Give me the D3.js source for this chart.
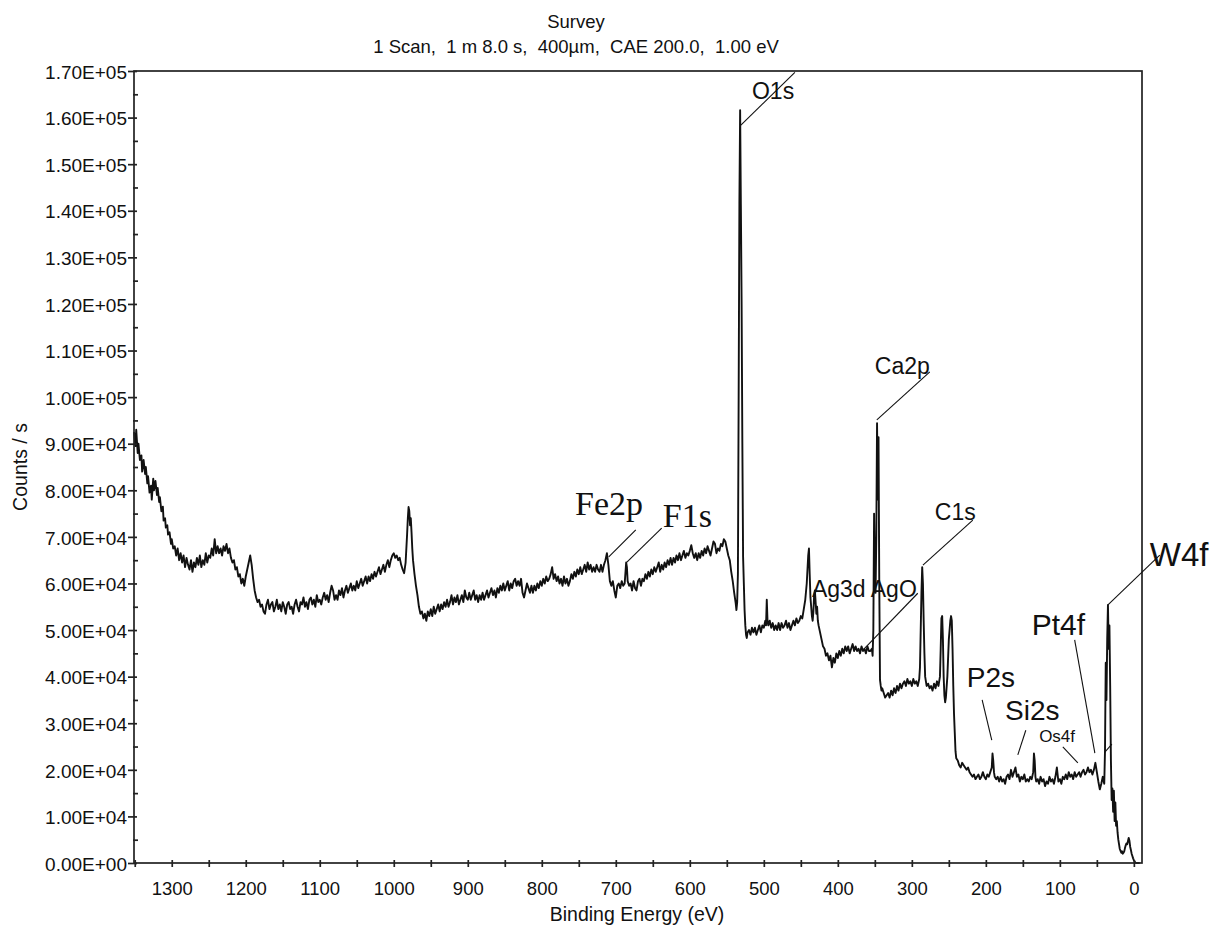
<!DOCTYPE html>
<html>
<head>
<meta charset="utf-8">
<script src="https://cdn.jsdelivr.net/npm/d3@7"></script>
<style>
  html, body { margin: 0; padding: 0; background: #fff; }
  svg { display: block; }
  text { fill: #111; }
</style>
</head>
<body>
<svg id="chart" width="1225" height="932"></svg>
<script>
// ---------------- DATA ----------------
const titleText = "Survey";
const subtitleText = "1 Scan,  1 m 8.0 s,  400\u00b5m,  CAE 200.0,  1.00 eV";
const xAxisTitle = "Binding Energy (eV)";
const yAxisTitle = "Counts / s";

const xMajorTicks = [1300, 1200, 1100, 1000, 900, 800, 700, 600, 500, 400, 300, 200, 100, 0];
const xMinorTicks = [1350, 1250, 1150, 1050, 950, 850, 750, 650, 550, 450, 350, 250, 150, 50];
const yMajorTicks = [0, 10000, 20000, 30000, 40000, 50000, 60000, 70000, 80000, 90000, 100000,
                     110000, 120000, 130000, 140000, 150000, 160000, 170000];
const yTickLabels = ["0.00E+00", "1.00E+04", "2.00E+04", "3.00E+04", "4.00E+04", "5.00E+04",
                     "6.00E+04", "7.00E+04", "8.00E+04", "9.00E+04", "1.00E+05", "1.10E+05",
                     "1.20E+05", "1.30E+05", "1.40E+05", "1.50E+05", "1.60E+05", "1.70E+05"];
const yMinorTicks = [5000, 15000, 25000, 35000, 45000, 55000, 65000, 75000, 85000, 95000,
                     105000, 115000, 125000, 135000, 145000, 155000, 165000];

// [binding energy (eV), counts/s]
const spectrum = [
[1351,92500],[1349,89500],[1348,93000],[1346,88000],[1345,90000],[1343,86500],[1341,87500],[1340,84000],
[1338,86500],[1336,83500],[1335,85000],[1333,81500],[1332,83000],[1330,79500],[1328,81000],[1327,78000],
[1325,82500],[1324,80000],[1322,82000],[1320,79000],[1319,80500],[1317,77500],[1316,78500],[1314,75500],
[1312,76500],[1311,73500],[1309,74000],[1308,72000],[1306,72500],[1305,70500],[1303,71000],[1301,68500],
[1300,69500],[1298,67500],[1296,68000],[1294,66000],[1292,67500],[1290,65000],[1288,66500],[1286,64500],
[1284,66000],[1282,63500],[1280,65500],[1278,64000],[1276,63000],[1274,65000],[1272,62500],[1270,64500],
[1268,63500],[1266,65500],[1264,64000],[1262,66000],[1260,63500],[1258,65000],[1256,64000],[1254,66500],
[1252,64500],[1250,66000],[1248,65500],[1246,67500],[1244,66000],[1242,69500],[1240,66500],[1238,68000],
[1236,66500],[1234,67500],[1232,66000],[1230,68000],[1228,67000],[1226,68500],[1224,66500],[1222,67500],
[1220,65500],[1218,64500],[1216,65000],[1214,63000],[1212,63500],[1210,61500],[1208,62000],[1206,60000],
[1204,61000],[1202,59500],[1200,61500],[1198,63000],[1196,64500],[1194,66000],[1192,64000],[1190,61000],
[1188,58500],[1186,57000],[1184,56000],[1182,56500],[1180,55000],[1178,55500],[1176,54000],[1174,53500],
[1172,55500],[1170,56500],[1168,54500],[1166,55500],[1164,56000],[1162,54000],[1160,55000],[1158,56500],
[1156,54500],[1154,55500],[1152,54000],[1150,56000],[1148,55000],[1146,53500],[1144,55500],[1142,56000],
[1140,54500],[1138,55000],[1136,53500],[1134,55500],[1132,56500],[1130,55000],[1128,54000],[1126,56000],
[1124,55500],[1122,57000],[1120,55000],[1118,56000],[1116,54500],[1114,56500],[1112,57000],[1110,55500],
[1108,56500],[1106,55000],[1104,57500],[1102,56000],[1100,56500],[1098,55500],[1096,57000],[1094,58000],
[1092,56500],[1090,57500],[1088,56000],[1086,58000],[1084,59500],[1082,58500],[1080,56500],[1078,57500],
[1076,56500],[1074,58500],[1072,57500],[1070,59000],[1068,57000],[1066,58500],[1064,59500],[1062,58000],
[1060,59000],[1058,60000],[1056,58500],[1054,59500],[1052,58500],[1050,60500],[1048,59000],[1046,60000],
[1044,61000],[1042,59500],[1040,60500],[1038,61500],[1036,60000],[1034,61500],[1032,60500],[1030,62000],
[1028,61000],[1026,62500],[1024,61500],[1022,62500],[1020,63500],[1018,62000],[1016,63000],[1014,64000],
[1012,62500],[1010,64000],[1008,65000],[1006,63500],[1004,65000],[1002,66000],[1000,66500],[998,65500],
[996,66000],[994,65000],[992,65500],[990,64000],[988,63000],[986,62200],[984,64500],[982,70500],
[981,74000],[980,76400],[979,75500],[978,72500],[977,74000],[976,71000],[975,67500],[974,65000],
[972,62000],[970,59500],[968,57500],[966,55000],[964,53500],[962,54000],[960,52500],[958,53500],
[956,52000],[954,54000],[952,53000],[950,54500],[948,53000],[946,55000],[944,53500],[942,54500],
[940,55500],[938,54000],[936,55500],[934,54500],[932,56000],[930,55000],[928,56500],[926,55000],
[924,56000],[922,57500],[920,55500],[918,57000],[916,56000],[914,57500],[912,55500],[910,56500],
[908,57500],[906,56000],[904,58500],[902,57000],[900,56500],[898,58000],[896,56500],[894,57500],
[892,58500],[890,56500],[888,57500],[886,56000],[884,57500],[882,56500],[880,58000],[878,56500],
[876,57500],[874,58500],[872,57000],[870,58000],[868,59000],[866,57500],[864,58500],[862,57000],
[860,59000],[858,58000],[856,59500],[854,58500],[852,60000],[850,58500],[848,59500],[846,60500],
[844,58500],[842,60000],[840,59000],[838,60500],[836,61000],[834,59500],[832,60500],[830,59500],
[828,61000],[826,58000],[824,57000],[822,58500],[820,60000],[818,59000],[816,58000],[814,59500],
[812,58000],[810,59500],[808,58500],[806,60000],[804,59000],[802,60500],[800,59500],[798,61000],
[796,60000],[794,61500],[792,60500],[790,61000],[788,62000],[786,63500],[784,61000],[782,62000],
[780,60500],[778,61500],[776,60000],[774,61000],[772,59500],[770,61500],[768,60000],[766,61000],
[764,59500],[762,60500],[760,62000],[758,61000],[756,62500],[754,61500],[752,63000],[750,62000],
[748,63500],[746,62000],[744,63000],[742,64000],[740,62500],[738,64500],[736,63000],[734,64000],
[732,62500],[730,63500],[728,62500],[726,64000],[724,63000],[722,62500],[720,64000],[718,62500],
[716,64000],[714,65000],[712,66500],[710,64000],[708,60500],[706,59500],[704,60500],[702,58500],
[700,57000],[698,59500],[696,60000],[694,59000],[692,60500],[690,59500],[688,60000],[686,64500],
[685,63500],[684,60500],[682,59500],[680,60000],[678,58500],[676,60500],[674,59000],[672,58500],
[670,60500],[668,61000],[666,59500],[664,61000],[662,60500],[660,62000],[658,61000],[656,62500],
[654,61500],[652,63000],[650,62000],[648,63500],[646,62500],[644,63500],[642,64500],[640,62500],
[638,64000],[636,63000],[634,64500],[632,63500],[630,65000],[628,64000],[626,65500],[624,64000],
[622,65500],[620,64500],[618,66000],[616,65000],[614,66500],[612,65000],[610,66000],[608,67000],
[606,65500],[604,66500],[602,66000],[600,67000],[598,68200],[596,66500],[594,65500],[592,66500],
[590,65000],[588,66500],[586,65500],[584,67000],[582,66000],[580,67500],[578,66500],[576,68000],
[574,67000],[572,66000],[570,67500],[568,69000],[566,68500],[564,66500],[562,67500],[560,67000],
[558,68500],[556,68000],[554,69500],[552,69000],[550,67500],[548,66000],[546,65000],[544,62500],
[542,60500],[540,58000],[538,55800],[537,54300],[536,56000],[535,62000],[534,100000],[533,141500],
[532,161600],[531,141000],[530,120000],[529,90000],[528,65700],[527,60000],[526,54300],[525,51000],
[524,49000],[523,48300],[522,49500],[520,50000],[518,49000],[516,50500],[514,49500],[512,50500],
[510,49000],[508,50000],[506,51000],[504,49500],[502,51000],[500,50500],[498,52000],[497,51000],
[496,56500],[495,52000],[494,51000],[492,52000],[490,50500],[488,51500],[486,50000],[484,51000],
[482,50000],[480,51500],[478,50000],[476,51500],[474,50500],[472,51000],[470,52000],[468,50500],
[466,51500],[464,50000],[462,51000],[460,52000],[458,51000],[456,52500],[454,51500],[452,52000],
[450,53000],[448,52500],[446,54500],[444,56500],[442,60000],[440,66000],[439,67500],[438,62000],
[437,57000],[436,55000],[435,53000],[434,52000],[433,54000],[432,57500],[431,58500],[430,56000],
[429,53500],[428,55000],[427,52000],[426,51000],[424,49500],[422,48000],[420,46500],[418,46000],
[416,44500],[414,45000],[412,43500],[410,44500],[408,42000],[406,44000],[404,43000],[402,45000],
[400,44000],[398,45500],[396,44500],[394,46000],[392,45000],[390,46500],[388,45500],[386,46500],
[384,45000],[382,46000],[380,47000],[378,45500],[376,46500],[374,45500],[372,46000],[370,45000],
[368,46500],[366,45500],[364,46000],[362,45000],[360,46500],[358,45500],[356,45500],[354,46000],
[353,44500],[352,50000],[351,75000],[350,62000],[349,58000],[348,70000],[347,94400],[346,78000],
[345,91400],[344,60000],[343,39300],[342,38000],[341,37000],[340,37500],[338,36500],[336,35500],
[334,36000],[332,36500],[330,35500],[328,37000],[326,36000],[324,37500],[322,36500],[320,38000],
[318,37000],[316,38500],[314,37500],[312,38500],[310,39000],[308,38000],[306,39500],[304,38500],
[302,39000],[300,38000],[298,39500],[296,38500],[294,39000],[292,38000],[290,39500],[289,42000],
[288,50000],[287,58000],[286,63500],[285,60000],[284,52000],[283,45000],[282,40000],[281,39000],
[280,38000],[278,38500],[276,37500],[274,38000],[272,37000],[270,38500],[268,37500],[266,39000],
[264,38000],[262,40000],[261,46000],[260,52500],[259,53000],[258,48000],[257,40000],[256,36000],
[255,34500],[254,35500],[252,40000],[250,48000],[248,52000],[247,53000],[246,52000],[245,46000],
[244,38000],[243,32000],[242,28000],[241,24000],[240,22500],[238,22000],[236,21000],[234,20500],
[232,21500],[230,21000],[228,20500],[226,20000],[224,20500],[222,19500],[220,19000],[218,18500],
[216,19000],[214,18000],[212,18500],[210,19000],[208,18000],[206,18500],[204,19500],[202,18500],
[200,18000],[198,19000],[196,18500],[194,19500],[192,20500],[191,23500],[190,22000],[189,19500],
[188,18500],[186,18000],[184,18500],[182,17500],[180,18500],[178,17500],[176,18000],[174,17000],
[172,18500],[170,19000],[168,18000],[166,20000],[164,18500],[162,19500],[160,20500],[158,18500],
[156,19000],[154,17500],[152,18500],[150,18000],[148,19000],[146,17500],[144,18000],[142,17500],
[140,18500],[138,18000],[136,19500],[135,23500],[134,22000],[133,18500],[132,17500],[130,18000],
[128,17000],[126,18500],[124,17500],[122,18000],[120,16500],[118,17500],[116,17000],[114,18500],
[112,17500],[110,18000],[108,17000],[106,18500],[104,20500],[103,19000],[102,17500],[100,18000],
[98,17000],[96,18500],[94,18000],[92,19000],[90,18000],[88,19500],[86,18500],[84,19000],
[82,18000],[80,19500],[78,18500],[76,19000],[74,19500],[72,18500],[70,19500],[68,20000],
[66,19000],[64,19500],[62,20500],[60,19500],[58,20000],[56,19000],[54,20000],[52,21500],
[50,19500],[48,17500],[46,15800],[44,17000],[42,18500],[40,17000],[39,24000],[38,43000],
[37,35000],[36,48000],[35,55400],[34,46000],[33,51000],[32,38000],[31,22000],[30,13500],
[29,16000],[28,11000],[27,15500],[26,9000],[25,13000],[24,8000],[23,9000],[22,6500],
[21,5000],[20,4000],[19,3000],[18,2600],[17,2200],[16,2500],[15,2000],[14,2200],
[13,2500],[12,3200],[11,3800],[10,4200],[9,4000],[8,4700],[7,5400],[6,4800],
[5,3500],[4,2800],[3,2000],[2,1500],[1,1000],[0,600],[-1,300],[-2,100],[-3,0],[-8,0]
];

// Peak annotations: label, text anchor point (BE, counts), leader line from/to (BE, counts)
const annotations = [
  {label: "O1s",      font: "sans",  size: 23, at: [516, 164000],   from: [531, 158400], to: [458, 169700]},
  {label: "Ca2p",     font: "sans",  size: 23, at: [350, 104900],   from: [347.3, 95100], to: [275.7, 105400]},
  {label: "C1s",      font: "sans",  size: 23, at: [269, 73600],    from: [285, 63950],  to: [217.6, 73600]},
  {label: "Ag3d AgO", font: "sans",  size: 23, at: [435, 57100],    from: [363.5, 46100], to: [292, 57900]},
  {label: "Fe2p",     font: "serif", size: 34, at: [755, 74600],    from: [709.5, 65700], to: [673, 71500]},
  {label: "F1s",      font: "serif", size: 34, at: [636.5, 72100],  from: [685, 64600],  to: [638, 71900]},
  {label: "W4f",      font: "sans",  size: 33, at: [-21.6, 63700],  from: [35, 55400],   to: [-35, 66100]},
  {label: "Pt4f",     font: "sans",  size: 30, at: [138, 48900],    from: [52.7, 23600], to: [80, 47900]},
  {label: "P2s",      font: "sans",  size: 28, at: [225.7, 37800],  from: [192, 26400],  to: [205, 35000]},
  {label: "Si2s",     font: "sans",  size: 28, at: [174, 30700],    from: [156.8, 23200], to: [146, 28500]},
  {label: "Os4f",     font: "sans",  size: 17, at: [128, 26000],    from: [75.7, 21500], to: [96, 24900]},
  {label: "",         font: "sans",  size: 17, at: [30, 25500],     from: [39.2, 23800], to: [29.7, 25500]}
];

// ---------------- CHART ----------------
const W = 1225, H = 932;
const margin = {left: 134, right: 83, top: 71, bottom: 69};
const SANS = "'Liberation Sans', Arial, Helvetica, sans-serif";
const SERIF = "'Liberation Serif', 'Times New Roman', Times, serif";

const svg = d3.select("#chart");
const x = d3.scaleLinear().domain([1351, -11]).range([margin.left, W - margin.right]);
const y = d3.scaleLinear().domain([0, 170000]).range([H - margin.bottom, margin.top]);

// Title
svg.append("text").attr("x", 576).attr("y", 28).attr("text-anchor", "middle")
  .style("font-family", SANS).style("font-size", "18.5px").text(titleText);
svg.append("text").attr("x", 576).attr("y", 53).attr("text-anchor", "middle")
  .attr("xml:space", "preserve").style("white-space", "pre")
  .style("font-family", SANS).style("font-size", "18.5px").text(subtitleText);

// Spectrum line
const line = d3.line().x(d => x(d[0])).y(d => y(d[1]));
svg.append("path").datum(spectrum)
  .attr("d", line).attr("fill", "none")
  .attr("stroke", "#111").attr("stroke-width", 1.9).attr("stroke-linejoin", "round");

// Frame
svg.append("rect")
  .attr("x", x.range()[0]).attr("y", y.range()[1])
  .attr("width", x.range()[1] - x.range()[0]).attr("height", y.range()[0] - y.range()[1])
  .attr("fill", "none").attr("stroke", "#222").attr("stroke-width", 1.7);

// X axis
const gx = svg.append("g").attr("transform", `translate(0,${y.range()[0]})`)
  .call(d3.axisBottom(x).tickValues(xMajorTicks).tickFormat(d => String(d)).tickSize(4).tickPadding(15));
gx.select(".domain").remove();
gx.selectAll(".tick line").attr("y1", -3).attr("stroke", "#222").attr("stroke-width", 1.7);
gx.selectAll("text").style("font-family", SANS).style("font-size", "18.5px").attr("fill", "#111");

const gxm = svg.append("g").attr("transform", `translate(0,${y.range()[0]})`)
  .call(d3.axisBottom(x).tickValues(xMinorTicks).tickFormat("").tickSize(4));
gxm.select(".domain").remove();
gxm.selectAll(".tick line").attr("y1", -3).attr("stroke", "#222").attr("stroke-width", 1.7);

// Y axis
const gy = svg.append("g").attr("transform", `translate(${x.range()[0]},0)`)
  .call(d3.axisLeft(y).tickValues(yMajorTicks).tickFormat((d, i) => yTickLabels[i]).tickSize(6).tickPadding(1));
gy.select(".domain").remove();
gy.selectAll(".tick line").attr("x1", 3).attr("stroke", "#222").attr("stroke-width", 1.7);
gy.selectAll("text").style("font-family", SANS).style("font-size", "19px").attr("fill", "#111").attr("dy", "0.38em");

const gym = svg.append("g").attr("transform", `translate(${x.range()[0]},0)`)
  .call(d3.axisLeft(y).tickValues(yMinorTicks).tickFormat("").tickSize(1));
gym.select(".domain").remove();
gym.selectAll(".tick line").attr("x1", 4).attr("stroke", "#222").attr("stroke-width", 1.7);

// Axis titles
svg.append("text").attr("x", 637).attr("y", 921).attr("text-anchor", "middle")
  .style("font-family", SANS).style("font-size", "19.5px").text(xAxisTitle);
svg.append("text").attr("transform", "translate(27,467) rotate(-90)").attr("text-anchor", "middle")
  .style("font-family", SANS).style("font-size", "19.5px").text(yAxisTitle);

// Annotations
const ann = svg.append("g");
ann.selectAll("line").data(annotations).join("line")
  .attr("x1", d => x(d.from[0])).attr("y1", d => y(d.from[1]))
  .attr("x2", d => x(d.to[0])).attr("y2", d => y(d.to[1]))
  .attr("stroke", "#111").attr("stroke-width", 1.1);
ann.selectAll("text").data(annotations.filter(d => d.label)).join("text")
  .attr("x", d => x(d.at[0])).attr("y", d => y(d.at[1]))
  .attr("xml:space", "preserve").style("white-space", "pre")
  .style("font-family", d => d.font === "serif" ? SERIF : SANS)
  .style("font-size", d => d.size + "px")
  .text(d => d.label);
</script>
</body>
</html>
